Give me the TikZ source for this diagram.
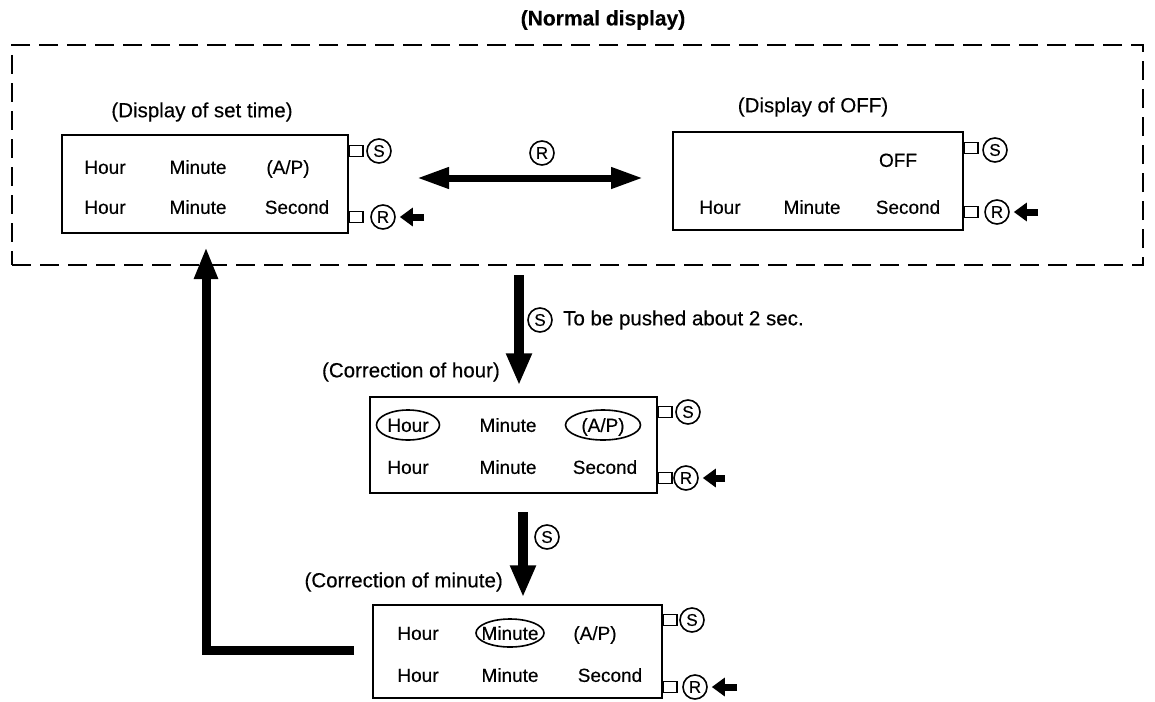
\documentclass[tikz,border=0pt]{standalone}
\usepackage{fontspec}
\setmainfont{Liberation Sans}[FakeBold=0.3]
\usetikzlibrary{arrows.meta,shapes.geometric}
\begin{document}
\begin{tikzpicture}[x=1pt,y=-1pt,
  txt/.style={font=\fontsize{19}{22}\selectfont, inner sep=0pt, text height=13.7pt, text depth=0pt},
  lbl/.style={font=\fontsize{20.5}{24}\selectfont, inner sep=0pt},
  disp/.style={draw, line width=2pt, rectangle, inner sep=0pt},
  tabbox/.style={draw, line width=1.8pt, minimum width=14pt, minimum height=11pt, inner sep=0pt, anchor=west},
  btn/.style={draw, circle, line width=1.6pt, minimum size=24pt, inner sep=0pt, font=\fontsize{17}{18}\selectfont},
  oval/.style={draw, ellipse, line width=1.6pt, inner sep=0pt},
  smallarr/.style={line width=7pt, -{Triangle[width=18pt,length=13pt]}},
  bigarr/.style={line width=10pt, -{Triangle[width=24pt,length=32pt]}},
  dblarr/.style={line width=7pt, {Triangle[width=20pt,length=32pt]}-{Triangle[width=20pt,length=32pt]}},
]
\useasboundingbox (0,0) rectangle (1155,701);

% title and dashed frame
\node[font=\fontsize{21}{24}\selectfont\bfseries] (title) at (603,20) {(Normal display)};
\node[draw, line width=2.4pt, dash pattern=on 19pt off 9pt, minimum width=1131pt, minimum height=220pt, inner sep=0pt] (frame) at (577.5,155) {};

% ---- Box 1: display of set time
\node[lbl] (l1) at (202,112) {(Display of set time)};
\node[disp, minimum width=286pt, minimum height=98pt] (b1) at (205,184) {};
\node[txt] (b1a) at (105,167) {Hour};
\node[txt] (b1b) at (198,167) {Minute};
\node[txt] (b1c) at (288,167) {(A/P)};
\node[txt] (b1d) at (105,207) {Hour};
\node[txt] (b1e) at (198,207) {Minute};
\node[txt] (b1f) at (297,207) {Second};
\node[tabbox] (b1ts) at (348,151) {};
\node[tabbox] (b1tr) at (348,217) {};
\node[btn] (b1s) at (379,151) {S};
\node[btn] (b1r) at (383,217) {R};
\coordinate (b1ra) at (424,217);
\draw[smallarr] (b1ra) -- ([xshift=4pt]b1r.east);

% ---- Box 2: display of OFF
\node[lbl] (l2) at (813,107) {(Display of OFF)};
\node[disp, minimum width=290pt, minimum height=98pt] (b2) at (818,181) {};
\node[txt] (b2a) at (898,160) {OFF};
\node[txt] (b2d) at (720,207) {Hour};
\node[txt] (b2e) at (812,207) {Minute};
\node[txt] (b2f) at (908,207) {Second};
\node[tabbox] (b2ts) at (963,148) {};
\node[tabbox] (b2tr) at (963,212) {};
\node[btn] (b2s) at (995,150) {S};
\node[btn] (b2r) at (997,212) {R};
\coordinate (b2ra) at (1038,212);
\draw[smallarr] (b2ra) -- ([xshift=4pt]b2r.east);

% ---- double arrow between the two
\coordinate (da1) at (417,178);
\coordinate (da2) at (643,178);
\draw[dblarr] (da1) -- (da2);
\node[btn] (dar) at (542,153) {R};

% ---- arrow 1 down
\coordinate (a1s) at (519,275);
\node[inner sep=0pt] (b3top) at (519,386) {};
\draw[bigarr] (a1s) -- (b3top);
\node[btn] (a1b) at (540,320) {S};
\node[lbl, anchor=west] (a1t) at (563,320) {To be pushed about 2 sec.};

% ---- Box 3: correction of hour
\node[lbl, anchor=east] (l3) at (500,372) {(Correction of hour)};
\node[disp, minimum width=287pt, minimum height=96pt] (b3) at (513.5,445) {};
\node[oval, minimum width=63pt, minimum height=30pt] (b3o1) at (408,425) {};
\node[oval, minimum width=75pt, minimum height=30pt] (b3o2) at (603,425) {};
\node[txt] (b3a) at (408,425) {Hour};
\node[txt] (b3b) at (508,425) {Minute};
\node[txt] (b3c) at (603,425) {(A/P)};
\node[txt] (b3d) at (408,467) {Hour};
\node[txt] (b3e) at (508,467) {Minute};
\node[txt] (b3f) at (605,467) {Second};
\node[tabbox] (b3ts) at (657,412) {};
\node[tabbox] (b3tr) at (657,478) {};
\node[btn] (b3s) at (688,412) {S};
\node[btn] (b3r) at (686,478) {R};
\coordinate (b3ra) at (725,478);
\draw[smallarr] (b3ra) -- ([xshift=4pt]b3r.east);

% ---- arrow 2 down
\coordinate (a2s) at (523,512);
\node[inner sep=0pt] (b4top) at (523,598) {};
\draw[bigarr] (a2s) -- (b4top);
\node[btn] (a2b) at (547,537) {S};

% ---- Box 4: correction of minute
\node[lbl, anchor=east] (l4) at (503,582) {(Correction of minute)};
\node[disp, minimum width=289pt, minimum height=93pt] (b4) at (517.5,651.5) {};
\node[oval, minimum width=68pt, minimum height=28pt] (b4o1) at (510,633) {};
\node[txt] (b4a) at (418,633) {Hour};
\node[txt] (b4b) at (510,633) {Minute};
\node[txt] (b4c) at (595,633) {(A/P)};
\node[txt] (b4d) at (418,675) {Hour};
\node[txt] (b4e) at (510,675) {Minute};
\node[txt] (b4f) at (610,675) {Second};
\node[tabbox] (b4ts) at (662,620) {};
\node[tabbox] (b4tr) at (662,687) {};
\node[btn] (b4s) at (692,620) {S};
\node[btn] (b4r) at (695,687) {R};
\coordinate (b4ra) at (737,687);
\draw[smallarr] (b4ra) -- ([xshift=4pt]b4r.east);

% ---- feedback arrow
\coordinate (fb1) at (354,650);
\coordinate (fb2) at (206,650);
\coordinate (fb3) at (206,247);
\draw[line width=9pt, -{Triangle[width=22pt,length=32pt]}] (fb1) -- (fb2) -- (fb3);
\end{tikzpicture}
\end{document}
